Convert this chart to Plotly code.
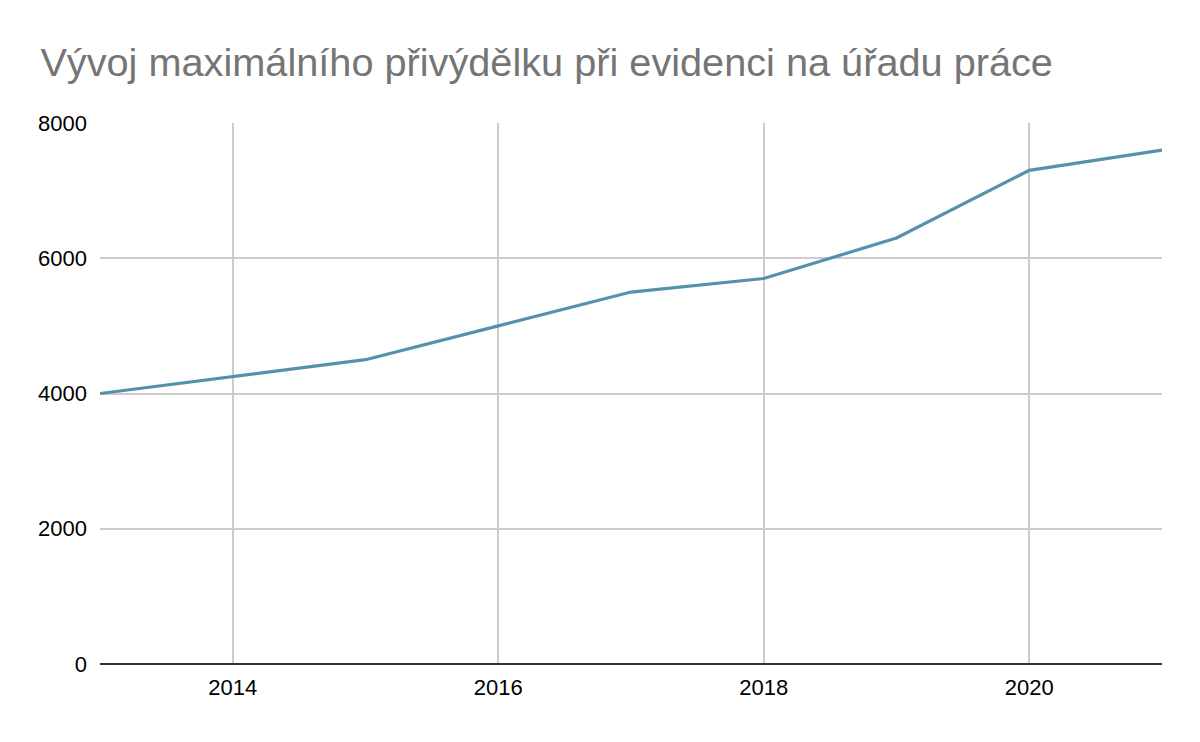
import plotly.graph_objects as go

years = [2013, 2014, 2015, 2016, 2017, 2018, 2019, 2020, 2021]
max_income = [4000, 4250, 4500, 5000, 5500, 5700, 6300, 7300, 7600]

fig = go.Figure()
fig.add_trace(go.Scatter(
    x=years,
    y=max_income,
    mode='lines',
    line=dict(color='#5691ab', width=3.2),
    showlegend=False
))

# page body adds an 8px offset, margins compensate for it
fig.update_layout(
    title=dict(
        text="Vývoj maximálního přivýdělku při evidenci na úřadu práce",
        x=0.027, xanchor='left',
        y=0.927, yanchor='middle',
        font=dict(family='Liberation Sans, Arial', size=39.7, color='#757575')
    ),
    width=1200, height=742,
    paper_bgcolor='white',
    plot_bgcolor='white',
    font=dict(family='Liberation Sans, Arial', size=22, color='#000000'),
    margin=dict(l=92, r=46, t=115, b=86),
    xaxis=dict(
        range=[2013, 2021],
        tickvals=[2014, 2016, 2018, 2020],
        showgrid=True, gridcolor='#cccccc', gridwidth=1.5,
        zeroline=False, showline=False,
        ticks='', ticklabelstandoff=8
    ),
    yaxis=dict(
        range=[0, 8000],
        tickvals=[0, 2000, 4000, 6000, 8000],
        showgrid=True, gridcolor='#cccccc', gridwidth=1.5,
        zeroline=True, zerolinecolor='#333333', zerolinewidth=1.5,
        showline=False, ticks='', ticklabelstandoff=12
    ),
)

fig.write_html("out.html")
